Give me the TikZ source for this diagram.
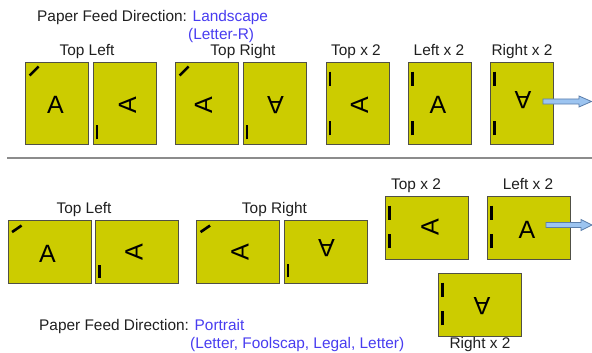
\documentclass[tikz,border=0pt]{standalone}
\usepackage{fontspec}
\setmainfont{Liberation Sans}
\definecolor{sheetfill}{RGB}{204,204,0}
\definecolor{sheetline}{RGB}{80,80,70}
\definecolor{feedblue}{RGB}{72,60,240}
\definecolor{arrfill}{RGB}{156,196,240}
\definecolor{arrline}{RGB}{90,125,170}
\begin{document}
\begin{tikzpicture}[x=1pt,y=-1pt,
  sheetp/.style={draw=sheetline,fill=sheetfill,line width=0.9pt,minimum width=63pt,minimum height=82pt,inner sep=0pt},
  sheetl/.style={draw=sheetline,fill=sheetfill,line width=0.9pt,minimum width=83pt,minimum height=63pt,inner sep=0pt},
  glyph/.style={inner sep=0pt,font=\fontsize{25}{25}\selectfont},
  lbl/.style={inner sep=0pt,anchor=base,text=black!88,font=\fontsize{15.4}{17}\selectfont},
  lblw/.style={inner sep=0pt,anchor=base west,text=black!88,font=\fontsize{15.4}{17}\selectfont},
  staple/.style={line width=2.6pt,black},
  fwd/.style={draw=arrline,fill=arrfill,line width=0.8pt},
  sep/.style={draw=black!45,line width=1.5pt}]
\useasboundingbox (0,0) rectangle (592,353);
% titles
\node[lblw] (t-title) at (37,22) {Paper Feed Direction: \textcolor{feedblue}{Landscape}};
\node[lblw,text=feedblue] (t-sub) at (188,40) {(Letter-R)};
% top labels
\node[lbl] (lt1) at (87,56) {Top Left};
\node[lbl] (lt3) at (243,56) {Top Right};
\node[lbl] (lt5) at (356,56) {Top x 2};
\node[lbl] (lt6) at (439,56) {Left x 2};
\node[lbl] (lt7) at (522,56) {Right x 2};
% top sheets
\node[sheetp] (t1) at (56.5,103) {};
\node[sheetp] (t2) at (124.5,103) {};
\node[sheetp] (t3) at (206.5,103) {};
\node[sheetp] (t4) at (274.5,103) {};
\node[sheetp] (t5) at (357.5,103) {};
\node[sheetp] (t6) at (440,103) {};
\node[sheetp] (t7) at (522,103) {};
\node[glyph] (t1a) at ([shift={(-1,2)}]t1.center) {A};
\node[glyph,rotate=90] (t2a) at ([shift={(3,2)}]t2.center) {A};
\node[glyph,rotate=90] (t3a) at ([shift={(-3,2)}]t3.center) {A};
\node[glyph,rotate=180] (t4a) at ([shift={(1,2)}]t4.center) {A};
\node[glyph,rotate=90] (t5a) at ([shift={(2,2)}]t5.center) {A};
\node[glyph] (t6a) at ([shift={(-2,2)}]t6.center) {A};
\node[glyph,rotate=180] (t7a) at ([shift={(1,-3)}]t7.center) {A};
% top staples
\draw[staple] ([shift={(5,14)}]t1.north west) -- ([shift={(14,5)}]t1.north west);
\draw[staple] ([shift={(5,14)}]t3.north west) -- ([shift={(14,5)}]t3.north west);
\draw[staple] ([shift={(4.5,-5)}]t2.south west) -- ([shift={(4.5,-19)}]t2.south west);
\draw[staple] ([shift={(4.5,-5)}]t4.south west) -- ([shift={(4.5,-19)}]t4.south west);
\foreach \s in {t5,t6,t7}{
  \draw[staple] ([shift={(4.5,10)}]\s.north west) -- ([shift={(4.5,24)}]\s.north west);
  \draw[staple] ([shift={(4.5,-9)}]\s.south west) -- ([shift={(4.5,-23)}]\s.south west);
}
\coordinate (a1) at (543,101.5);
\draw[fwd] (a1) ++(0,-2.5) -- ++(36,0) -- ++(0,-3) -- ++(12.5,5.5) -- ++(-12.5,5.5) -- ++(0,-3) -- ++(-36,0) -- cycle;
% separator
\coordinate (s1) at (7,158);
\coordinate (s2) at (592,158);
\draw[sep] (s1) -- (s2);
% bottom labels
\node[lbl] (lb1) at (84,213) {Top Left};
\node[lbl] (lb3) at (274.5,213) {Top Right};
\node[lbl] (lb5) at (416,189) {Top x 2};
\node[lbl] (lb6) at (528,189) {Left x 2};
\node[lbl] (lb7) at (480,348) {Right x 2};
\node[lblw] (b-title) at (39,330.5) {Paper Feed Direction: \textcolor{feedblue}{Portrait}};
\node[lblw,text=feedblue] (b-sub) at (190,348) {(Letter, Foolscap, Legal, Letter)};
% bottom sheets
\node[sheetl] (b1) at (49.5,252) {};
\node[sheetl] (b2) at (137,252) {};
\node[sheetl] (b3) at (238,252) {};
\node[sheetl] (b4) at (325.5,251.5) {};
\node[sheetl] (b5) at (427,227.5) {};
\node[sheetl] (b6) at (529,227.5) {};
\node[sheetl] (b7) at (480,304.5) {};
\node[glyph] (b1a) at ([shift={(-2,2)}]b1.center) {A};
\node[glyph,rotate=90] (b2a) at ([shift={(-3,0)}]b2.center) {A};
\node[glyph,rotate=90] (b3a) at ([shift={(2,0)}]b3.center) {A};
\node[glyph,rotate=180] (b4a) at ([shift={(1,-3)}]b4.center) {A};
\node[glyph,rotate=90] (b5a) at ([shift={(3,0)}]b5.center) {A};
\node[glyph] (b6a) at ([shift={(-2,2)}]b6.center) {A};
\node[glyph,rotate=180] (b7a) at ([shift={(2,2)}]b7.center) {A};
% bottom staples
\draw[staple] ([shift={(4.5,12)}]b1.north west) -- ([shift={(14,5.5)}]b1.north west);
\draw[staple] ([shift={(4.5,12)}]b3.north west) -- ([shift={(14,5.5)}]b3.north west);
\draw[staple] ([shift={(4.5,-6)}]b2.south west) -- ([shift={(4.5,-19)}]b2.south west);
\draw[staple] ([shift={(4.5,-6)}]b4.south west) -- ([shift={(4.5,-19)}]b4.south west);
\foreach \s in {b5,b6,b7}{
  \draw[staple] ([shift={(4.5,10)}]\s.north west) -- ([shift={(4.5,24)}]\s.north west);
  \draw[staple] ([shift={(4.5,-11)}]\s.south west) -- ([shift={(4.5,-25)}]\s.south west);
}
\coordinate (a2) at (546,225);
\draw[fwd] (a2) ++(0,-2.5) -- ++(35,0) -- ++(0,-3) -- ++(11,5.5) -- ++(-11,5.5) -- ++(0,-3) -- ++(-35,0) -- cycle;
\end{tikzpicture}
\end{document}
